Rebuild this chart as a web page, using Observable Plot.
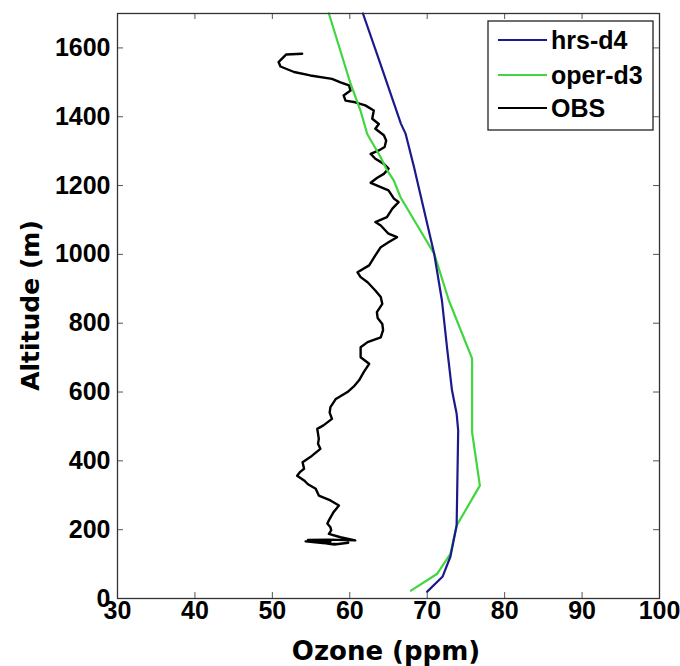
<!DOCTYPE html>
<html>
<head>
<meta charset="utf-8">
<script src="https://cdn.jsdelivr.net/npm/d3@7"></script>
<script src="https://cdn.jsdelivr.net/npm/@observablehq/plot@0.6"></script>
<style>
  html, body { margin: 0; padding: 0; background: #fff; }
  #chart { width: 680px; height: 666px; }
</style>
</head>
<body>
<div id="chart"></div>
<script>
// ---------- data ----------
const xTicks = [30, 40, 50, 60, 70, 80, 90, 100];
const yTicks = [0, 200, 400, 600, 800, 1000, 1200, 1400, 1600];

const seriesNames = ["hrs-d4", "oper-d3", "OBS"];
const seriesColors = ["#1a1a8c", "#3fd63f", "#000000"];

const hrsO3  = [70.0, 72.0, 73.0, 73.8, 74.0, 73.8, 73.2, 72.6, 71.9, 70.9, 68.3, 67.2, 66.6, 63.8, 61.7];
const hrsAlt = [20,   64,   122,  212,  488,  537,  605,  721,  866,  1002, 1253, 1351, 1380, 1564, 1700];

const operO3  = [67.9, 71.3, 73.0, 73.8, 76.8, 75.8, 75.8, 72.8, 70.9, 66.55, 65.68, 64.83, 63.97, 62.25, 61.38, 60.1, 57.3];
const operAlt = [23,   72,   130,  212,  328,  483,  697,  866,  1002, 1166,  1215,  1244,  1283,  1350,  1418,  1496, 1700];

const obsO3 = [
  57.5, 55.0, 54.3, 56.5, 58.5, 59.8, 58.0, 56.0, 54.6, 57.3, 60.7,
  58.8, 57.3, 57.6, 57.5, 57.1, 57.3, 57.9, 58.6, 57.5, 56.0, 55.6,
  54.6, 54.1, 53.2, 53.6, 54.1, 53.9, 54.9, 56.2, 55.9, 56.0, 55.8,
  56.6, 57.7, 57.4, 57.5, 58.2, 59.7, 60.6, 61.2, 61.8, 62.5, 61.4,
  61.4, 62.3, 64.0, 64.3, 64.2, 63.6, 63.5, 64.2, 64.0, 63.3, 62.3,
  61.4, 61.0, 62.5, 63.3, 64.0, 65.0, 66.1, 65.0, 64.0, 63.3, 64.8,
  65.5, 66.3, 65.7, 65.0, 62.7, 63.5, 64.4, 65.0, 64.4, 63.3, 62.7,
  63.75, 64.5, 64.7, 64.4, 63.3, 63.75, 62.9, 63.1, 62.0, 60.7, 59.45,
  59.2, 60.1, 59.9, 58.8, 57.7, 54.9, 52.8, 51.05, 50.8, 51.8, 53.85
];
const obsAlt = [
  165, 168, 166, 161, 158, 162, 157, 163, 170, 171, 169,
  178, 188, 198, 207, 218, 227, 251, 270, 285, 299, 319,
  332, 343, 357, 368, 377, 396, 411, 435, 450, 464, 493,
  503, 522, 540, 556, 580, 600, 618, 634, 658, 682, 701,
  730, 745, 759, 780, 798, 815, 832, 856, 876, 895, 919,
  934, 948, 968, 997, 1021, 1035, 1050, 1060, 1084, 1094, 1108,
  1133, 1152, 1162, 1186, 1208, 1222, 1234, 1249, 1263, 1278, 1292,
  1302, 1312, 1331, 1346, 1365, 1379, 1394, 1418, 1433, 1442, 1447,
  1462, 1476, 1491, 1500, 1510, 1520, 1530, 1546, 1559, 1581, 1583
];

// ---------- tables ----------
const hrs  = hrsO3.map((v, i) => ({o3: v, alt: hrsAlt[i]}));
const oper = operO3.map((v, i) => ({o3: v, alt: operAlt[i]}));
const obs  = obsO3.map((v, i) => ({o3: v, alt: obsAlt[i]}));

const W = 680, H = 666;
const mL = 117, mR = 21, mT = 13, mB = 68;
const plotW = W - mL - mR, plotH = H - mT - mB;
const tickLen = 6;

const tickFont = "'Liberation Sans', Arial, Helvetica, sans-serif";
const titleFont = "'DejaVu Sans', Verdana, sans-serif";

const chart = Plot.plot({
  width: W,
  height: H,
  marginLeft: mL,
  marginRight: mR,
  marginTop: mT,
  marginBottom: mB,
  style: {background: "#fff", overflow: "visible"},
  x: {domain: [30, 100]},
  y: {domain: [0, 1700]},
  marks: [
    // inward ticks on all four sides
    Plot.tickX(xTicks, {x: d => d, insetTop: plotH - tickLen, stroke: "#555", strokeWidth: 1}),
    Plot.tickX(xTicks, {x: d => d, insetBottom: plotH - tickLen, stroke: "#555", strokeWidth: 1}),
    Plot.tickY(yTicks, {y: d => d, insetRight: plotW - tickLen, stroke: "#555", strokeWidth: 1}),
    Plot.tickY(yTicks, {y: d => d, insetLeft: plotW - tickLen, stroke: "#555", strokeWidth: 1}),
    Plot.axisX(xTicks, {
      anchor: "bottom", tickSize: 0, tickPadding: 3, label: null,
      tickFormat: d => String(d),
      fontSize: 25, fontWeight: "bold", fontFamily: tickFont, fill: "#000"
    }),
    Plot.axisY(yTicks, {
      anchor: "left", tickSize: 0, tickPadding: 7, label: null,
      tickFormat: d => String(d),
      fontSize: 25, fontWeight: "bold", fontFamily: tickFont, fill: "#000"
    }),
    Plot.line(obs, {x: "o3", y: "alt", stroke: seriesColors[2], strokeWidth: 2.4, strokeLinejoin: "round"}),
    Plot.line(oper, {x: "o3", y: "alt", stroke: seriesColors[1], strokeWidth: 2.2}),
    Plot.line(hrs, {x: "o3", y: "alt", stroke: seriesColors[0], strokeWidth: 2.2}),
    Plot.frame({stroke: "#333", strokeWidth: 1.3})
  ]
});

document.getElementById("chart").appendChild(chart);

// ---------- axis titles & legend ----------
const svg = d3.select(chart);

svg.append("text")
  .attr("x", mL + plotW / 2 - 2)
  .attr("y", 660)
  .attr("text-anchor", "middle")
  .attr("font-family", titleFont)
  .attr("font-weight", "bold")
  .attr("font-size", 26)
  .attr("fill", "#000")
  .text("Ozone (ppm)");

svg.append("text")
  .attr("transform", `translate(39,${mT + plotH / 2}) rotate(-90)`)
  .attr("text-anchor", "middle")
  .attr("font-family", titleFont)
  .attr("font-weight", "bold")
  .attr("font-size", 25)
  .attr("fill", "#000")
  .text("Altitude (m)");

const lg = svg.append("g");
lg.append("rect")
  .attr("x", 488).attr("y", 21).attr("width", 165).attr("height", 109)
  .attr("fill", "#fff").attr("stroke", "#222").attr("stroke-width", 1.3);
const rowsY = [40, 75, 108];
seriesNames.forEach((name, i) => {
  lg.append("line")
    .attr("x1", 498).attr("x2", 547)
    .attr("y1", rowsY[i]).attr("y2", rowsY[i])
    .attr("stroke", seriesColors[i]).attr("stroke-width", 2.2);
  lg.append("text")
    .attr("x", 551).attr("y", rowsY[i])
    .attr("dy", "0.36em")
    .attr("text-anchor", "start")
    .attr("font-family", tickFont)
    .attr("font-weight", "bold")
    .attr("font-size", 25)
    .attr("fill", "#000")
    .text(name);
});
</script>
</body>
</html>
